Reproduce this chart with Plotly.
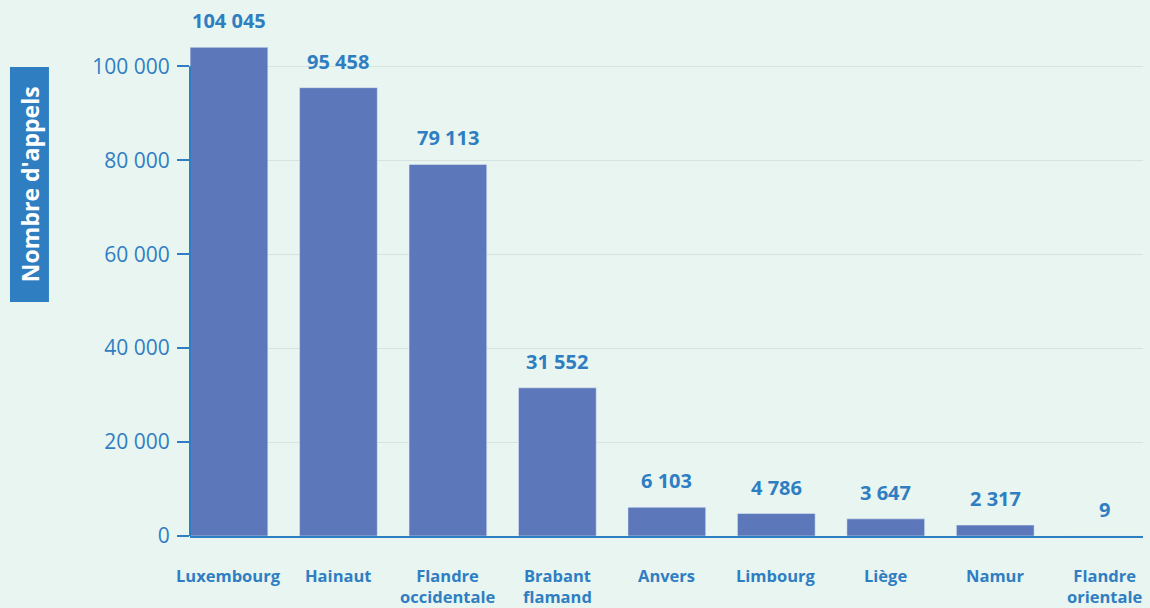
import plotly.graph_objects as go

categories = ["Luxembourg", "Hainaut", "Flandre<br>occidentale", "Brabant<br>flamand",
              "Anvers", "Limbourg", "Liège", "Namur", "Flandre<br>orientale"]
values = [104045, 95458, 79113, 31552, 6103, 4786, 3647, 2317, 9]
y_ticks = [0, 20000, 40000, 60000, 80000, 100000]
y_title = "Nombre d'appels"

BLUE = "#2F7EC2"
BAR = "#5C78BA"
BG = "#E8F5F1"
FONT = "Open Sans"

fig = go.Figure()
fig.add_trace(go.Bar(
    x=categories, y=values, marker_color=BAR, width=0.71,
    hoverinfo="y",
))

for c, v in zip(categories, values):
    fig.add_annotation(
        x=c, y=v, xref="x", yref="y",
        text="<b>" + f"{v:,}".replace(",", " ") + "</b>",
        showarrow=False, yanchor="bottom", yshift=11,
        font=dict(family=FONT, size=20, color=BLUE),
    )

# category labels
for c in categories:
    fig.add_annotation(
        x=c, y=0, xref="x", yref="paper",
        text="<b>" + c.replace("<br>", "</b><br><b>") + "</b>", showarrow=False,
        yanchor="top", yshift=-27, borderpad=0,
        font=dict(family=FONT, size=16.5, color=BLUE),
    )

# y-axis title box
fig.add_shape(type="rect", xref="paper", yref="paper",
              x0=-0.1889, x1=-0.148, y0=0.4449, y1=0.8916,
              fillcolor=BLUE, line_width=0, layer="above")
fig.add_annotation(
    xref="paper", yref="paper", x=-0.1684, y=0.668,
    text="<b>" + y_title + "</b>", textangle=-90, showarrow=False,
    font=dict(family=FONT, size=23, color="white"),
    xanchor="center", yanchor="middle",
)
# left axis line (from 0 to top tick)
fig.add_shape(type="line", xref="paper", yref="y", x0=0, x1=0,
              y0=y_ticks[0], y1=y_ticks[-1], line=dict(color=BLUE, width=2))

fig.update_layout(
    width=1150, height=608,
    margin=dict(l=190, r=7, t=10, b=72),
    paper_bgcolor=BG, plot_bgcolor=BG,
    separators=", ",
    showlegend=False,
    font=dict(family=FONT, color=BLUE),
    xaxis=dict(
        type="category", range=[-0.356, 8.35],
        showgrid=False, showline=True, linecolor=BLUE, linewidth=2,
        ticks="", showticklabels=False,
    ),
    yaxis=dict(
        range=[0, 112000], tickvals=y_ticks, tickformat=",",
        showgrid=True, gridcolor="#D6E2DF", gridwidth=1,
        zeroline=False, showline=False,
        ticks="outside", ticklen=12, tickwidth=2, tickcolor=BLUE,
        ticklabelstandoff=3,
        tickfont=dict(family=FONT, size=21, color=BLUE),
    ),
)

fig.write_html("out.html")
